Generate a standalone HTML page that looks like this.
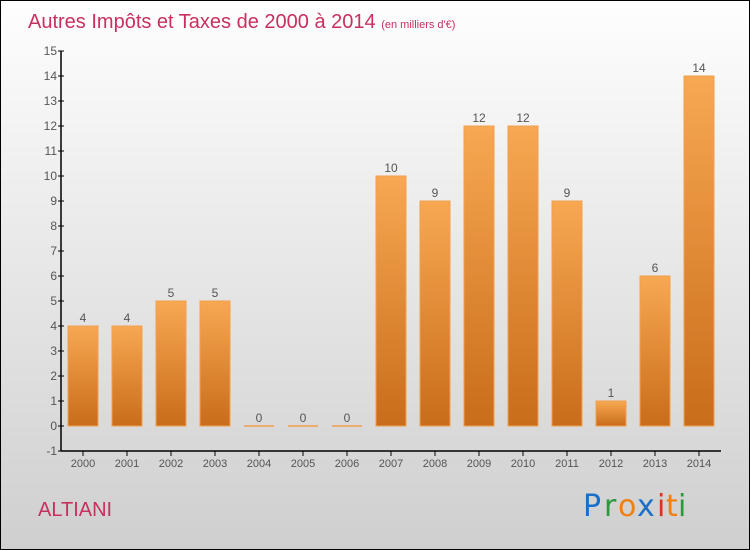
<!DOCTYPE html>
<html><head><meta charset="utf-8"><style>
body{margin:0}
#c{width:748px;height:548px;border:1px solid #000;background:linear-gradient(#fefefe,#cfcfcf);position:relative;overflow:hidden;font-family:"Liberation Sans",sans-serif}
</style></head><body>
<div id="c">
<svg id="s" width="748" height="548" style="position:absolute;left:0;top:0">
<defs><linearGradient id="g" x1="0" y1="0" x2="0" y2="1"><stop offset="0" stop-color="#f8a852"/><stop offset="1" stop-color="#c86d1a"/></linearGradient></defs>
<text x="27" y="27" font-size="20" fill="#c8305e">Autres Impôts et Taxes de 2000 à 2014 <tspan font-size="11">(en milliers d'€)</tspan></text>
<text x="37" y="515" font-size="20" fill="#c8305e">ALTIANI</text>
<g font-size="30" font-family="'DejaVu Sans',sans-serif">
<text x="582" y="515" fill="#1a6fc8">P</text><text x="603" y="515" fill="#2a9a3a">r</text><text x="617" y="515" fill="#f08010">o</text><text x="636" y="515" fill="#1a6fc8">x</text><text x="656" y="515" fill="#e03020">i</text><text x="665" y="515" fill="#f08010">t</text><text x="677" y="515" fill="#2a9a3a">i</text></g>
<g id="plot"></g>
</svg></div>
<script>
const years=["2000","2001","2002","2003","2004","2005","2006","2007","2008","2009","2010","2011","2012","2013","2014"];
const values=[4,4,5,5,0,0,0,10,9,12,12,9,1,6,14];
const yTicks=[-1,0,1,2,3,4,5,6,7,8,9,10,11,12,13,14,15];
const ns="http://www.w3.org/2000/svg";
const p=document.getElementById('plot');
const y=v=>425-v*25, x=i=>82+i*44;
function mk(t,a,txt){const e=document.createElementNS(ns,t);for(const k in a)e.setAttribute(k,a[k]);if(txt!=null)e.textContent=txt;p.appendChild(e);return e;}
values.forEach((v,i)=>{
 if(v>0){const r=mk('rect',{x:x(i)-15,y:y(v),width:30,height:y(0)-y(v),fill:'url(#g)',stroke:'#f0a050','stroke-width':1});
 
 }
 else{const r=mk('line',{x1:x(i)-15,x2:x(i)+15,y1:y(0),y2:y(0),stroke:'#f0a050','stroke-width':1.5});
 
 }
 const t=mk('text',{x:x(i),y:y(v)-4,'text-anchor':'middle','font-size':12,fill:'#555'},String(v));
 
 
 mk('line',{x1:x(i),x2:x(i),y1:450,y2:455,stroke:'#000'});
 const xl=mk('text',{x:x(i),y:466,'text-anchor':'middle','font-size':11,fill:'#555'},years[i]);
 
 
});
yTicks.forEach(v=>{
 mk('line',{x1:57,x2:63,y1:y(v),y2:y(v),stroke:'#000'});
 const t=mk('text',{x:56,y:y(v)+4,'text-anchor':'end','font-size':12,fill:'#555'},String(v));
 
 
});
const ya=mk('line',{x1:60,x2:60,y1:50,y2:450,stroke:'#000','stroke-width':1.5});


const xa=mk('line',{x1:60,x2:720,y1:450,y2:450,stroke:'#000','stroke-width':1.5});


</script>
</body></html>
